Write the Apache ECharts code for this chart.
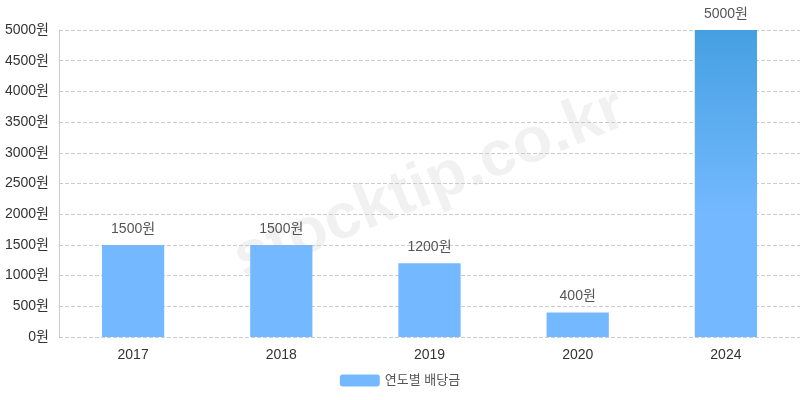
<!DOCTYPE html>
<html>
<head>
<meta charset="utf-8">
<script src="https://cdn.jsdelivr.net/npm/echarts@6/dist/echarts.min.js"></script>
<style>
html,body{margin:0;padding:0;background:#fff;}
#chart{width:800px;height:400px;}
</style>
</head>
<body>
<div id="chart"></div>
<script>
var categories = ['2017', '2018', '2019', '2020', '2024'];
var dividends = [1500, 1500, 1200, 400, 5000];
var seriesName = '연도별 배당금';
var unit = '원';
var watermarkText = 'stocktip.co.kr';

var maxVal = Math.max.apply(null, dividends);
var barData = dividends.map(function (v) {
  if (v === maxVal) {
    return {
      value: v,
      itemStyle: {
        color: new echarts.graphic.LinearGradient(0, 0, 0, 1, [
          { offset: 0, color: '#45a0e2' },
          { offset: 0.6, color: '#74b9ff' },
          { offset: 1, color: '#74b9ff' }
        ])
      }
    };
  }
  return v;
});

var chart = echarts.init(document.getElementById('chart'));
chart.setOption({
  animation: false,
  textStyle: { fontFamily: 'Arial, "Liberation Sans", "Noto Sans CJK KR", sans-serif' },
  grid: { left: 59, right: 0, top: 30, bottom: 63, containLabel: false },
  legend: {
    bottom: 8,
    left: 'center',
    itemWidth: 40,
    itemHeight: 12,
    itemGap: 10,
    textStyle: { fontSize: 13, color: '#555' },
    data: [seriesName]
  },
  graphic: [{
    type: 'text',
    x: 430,
    y: 185,
    rotation: 22 * Math.PI / 180,
    z: -10,
    silent: true,
    style: {
      text: watermarkText,
      font: 'bold 64px Arial, "Liberation Sans", sans-serif',
      fill: 'rgba(0,0,0,0.055)',
      align: 'center',
      verticalAlign: 'middle'
    }
  }],
  xAxis: {
    type: 'category',
    data: categories,
    axisLine: { show: false },
    axisTick: { show: false },
    axisLabel: { fontSize: 14, color: '#333', margin: 11 }
  },
  yAxis: {
    type: 'value',
    min: 0,
    max: 5000,
    interval: 500,
    axisLine: { show: true, lineStyle: { color: '#ccc' } },
    axisTick: { show: false },
    axisLabel: {
      fontSize: 14, color: '#333', margin: 10,
      formatter: function (v) { return String(v) + unit; }
    },
    splitLine: { lineStyle: { color: '#ccc', type: 'dashed' } }
  },
  series: [{
    name: seriesName,
    type: 'bar',
    barWidth: '42%',
    data: barData,
    itemStyle: { color: '#74b9ff' },
    label: {
      show: true,
      position: 'top',
      distance: 9,
      fontSize: 14,
      color: '#555',
      formatter: function (p) { return p.value + unit; }
    }
  }]
});
</script>
</body>
</html>
